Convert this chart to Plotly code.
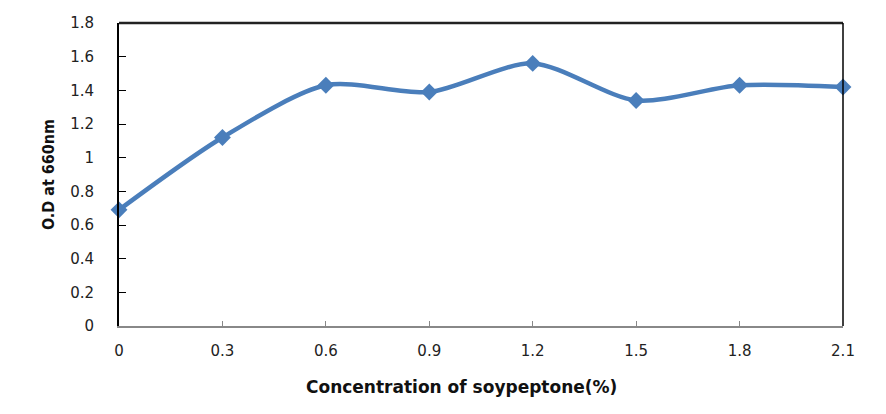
import plotly.graph_objects as go

concentration = [0, 0.3, 0.6, 0.9, 1.2, 1.5, 1.8, 2.1]
od_660 = [0.69, 1.12, 1.43, 1.39, 1.56, 1.34, 1.43, 1.42]
x_ticks = [0, 0.3, 0.6, 0.9, 1.2, 1.5, 1.8, 2.1]
x_tick_text = ["0", "0.3", "0.6", "0.9", "1.2", "1.5", "1.8", "2.1"]
y_ticks = [0, 0.2, 0.4, 0.6, 0.8, 1, 1.2, 1.4, 1.6, 1.8]
y_tick_text = ["0", "0.2", "0.4", "0.6", "0.8", "1", "1.2", "1.4", "1.6", "1.8"]

fig = go.Figure()
fig.add_trace(go.Scatter(
    x=concentration, y=od_660, mode="lines+markers",
    line=dict(color="#4A7EBB", width=4.5, shape="spline", smoothing=0.8),
    marker=dict(symbol="diamond", size=13, color="#4A7EBB"),
    cliponaxis=False, showlegend=False,
))

fig.update_layout(
    width=886, height=414,
    margin=dict(l=119, r=43, t=23, b=88),
    paper_bgcolor="white", plot_bgcolor="white",
    font=dict(family="DejaVu Sans", size=15, color="#222"),
    xaxis=dict(
        range=[0, 2.1], tickvals=x_ticks, ticktext=x_tick_text,
        showgrid=False, zeroline=False, showline=True, linecolor="#888", linewidth=1.5,
        ticks="inside", ticklen=5, tickcolor="#888", ticklabelstandoff=10,
        tickfont=dict(family="DejaVu Sans", size=15, color="#222"),
    ),
    yaxis=dict(
        range=[0, 1.8], tickvals=y_ticks, ticktext=y_tick_text,
        showgrid=False, zeroline=False, showline=True, linecolor="black", linewidth=2,
        ticks="inside", ticklen=7, tickcolor="black", ticklabelstandoff=20,
        tickfont=dict(family="DejaVu Sans", size=15, color="#222"),
        title=dict(text="<b>O.D at 660nm</b>", standoff=12,
                   font=dict(family="DejaVu Sans Condensed, DejaVu Sans", size=16, color="#111")),
    ),
    annotations=[
        dict(text="<b>Concentration of soypeptone(%)</b>", xref="paper", yref="paper",
             x=0.473, y=-0.2, xanchor="center", yanchor="middle", showarrow=False,
             font=dict(family="DejaVu Sans", size=17, color="#111")),
    ],
    shapes=[
        dict(type="line", xref="paper", yref="paper", x0=0, x1=1, y0=1, y1=1,
             line=dict(color="#222", width=2.5)),
        dict(type="line", xref="paper", yref="paper", x0=1, x1=1, y0=0, y1=1,
             line=dict(color="black", width=1.5)),
    ],
)

fig.write_html("out.html")
